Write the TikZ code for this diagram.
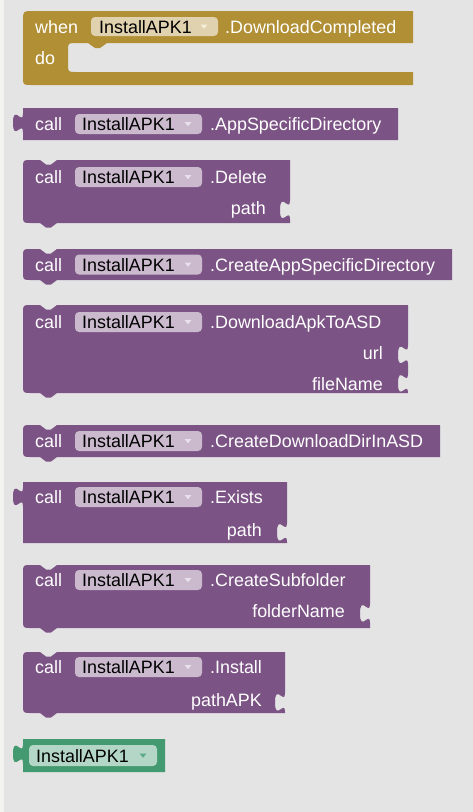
\documentclass[tikz,border=0pt]{standalone}
\usepackage{fontspec}
\setmainfont{Liberation Sans}
\definecolor{bgc}{HTML}{E4E4E4}
\definecolor{stripc}{HTML}{F3F3EF}
\definecolor{procP}{HTML}{7C5385}
\definecolor{fieldP}{HTML}{CBBACE}
\definecolor{arrowP}{HTML}{E9E1EB}
\definecolor{evG}{HTML}{B18F35}
\definecolor{fieldG}{HTML}{E0D2AE}
\definecolor{arrowG}{HTML}{F4EEDC}
\definecolor{compG}{HTML}{439970}
\definecolor{fieldN}{HTML}{B4D6C6}
\definecolor{arrowN}{HTML}{5BAA85}
% puzzle tab going down / up along a vertical edge at x=#1, starting at y=#2
\newcommand\tabdn[2]{-- (#1,#2) .. controls (#1,#2+12.5) and (#1-10,#2-10) .. (#1-10,#2+9.4) .. controls (#1-10,#2+28.8) and (#1,#2+6.3) .. (#1,#2+18.8)}
\newcommand\tabup[2]{-- (#1,#2+18.8) .. controls (#1,#2+6.3) and (#1-10,#2+28.8) .. (#1-10,#2+9.4) .. controls (#1-10,#2-10) and (#1,#2+12.5) .. (#1,#2)}
% statement block: #1 top, #2 bottom, #3 right, #4 sockets on right edge
\newcommand\stmtblk[4]{\fill[blkP] (23,#1+8) .. controls (23,#1) .. (31,#1) -- (40,#1) -- (46,#1+4.5) -- (51,#1+4.5) -- (57,#1) -- (#3,#1) #4 -- (#3,#2) -- (57,#2) -- (51,#2+4.5) -- (46,#2+4.5) -- (40,#2) -- (31,#2) .. controls (23,#2) .. (23,#2-8) -- cycle;}
% value block: #1 top, #2 bottom, #3 right, #4 sockets, #5 style
\newcommand\valblk[5]{\fill[#5] (23,#1) -- (#3,#1) #4 -- (#3,#2) -- (23,#2) \tabup{23}{#1+5.5} -- cycle;}
% dropdown arrow at centre #1,#2 with colour #3
\newcommand\ddarrow[3]{\fill[#3] (#1-3.3,#2-1.8) -- (#1+3.3,#2-1.8) -- (#1,#2+2.2) -- cycle;}
\tikzset{
  blkP/.style={fill=procP},
  blkG/.style={fill=evG},
  blkN/.style={fill=compG},
  fldP/.style={fill=fieldP, rounded corners=4pt},
  fldG/.style={fill=fieldG, rounded corners=4pt},
  fldN/.style={fill=fieldN, rounded corners=4pt},
  wt/.style={text=white, inner sep=0pt, anchor=base west},
  wtr/.style={text=white, inner sep=0pt, anchor=base east},
  bt/.style={text=black, inner sep=0pt, anchor=base west},
}
\begin{document}
\begin{tikzpicture}[x=1pt, y=-1pt, font=\fontsize{17.9}{20}\selectfont]
\useasboundingbox (0,0) rectangle (473,812);
\fill[bgc] (0,0) rectangle (473,812);
\fill[stripc] (0,0) rectangle (4,812);

% ---- B1 event block
\fill[blkG] (23,21) .. controls (23,11) .. (33,11) -- (413,11) -- (413,43) -- (107,43) -- (100,48) -- (95,48) -- (88,43) -- (76,43) .. controls (68,43) .. (68,51) -- (68,64) .. controls (68,72) .. (76,72) -- (413,72) -- (413,85) -- (31,85) .. controls (23,85) .. (23,77) -- cycle;
\fill[fldG] (91,17) rectangle (218,36);
\ddarrow{204}{26.5}{arrowG}
\node[wt] (whenT) at (35,33) {when};
\node[bt] (f1) at (99,33) {InstallAPK1};
\node[wt] (m1) at (225,33) {.DownloadCompleted};
\node[wt] (doT) at (35,64) {do};

% ---- B2 AppSpecificDirectory (value)
\valblk{108}{140}{398}{}{blkP}
\fill[fldP] (75,114) rectangle (202,134);
\ddarrow{188}{124}{arrowP}
\node[wt] (c2) at (35,130.5) {call};
\node[bt] (f2) at (82,130.5) {InstallAPK1};
\node[wt] (m2) at (210,130.5) {.AppSpecificDirectory};

% ---- B3 Delete
\stmtblk{160}{223}{290}{\tabdn{290}{200.5}}
\fill[fldP] (75,167) rectangle (202,187);
\ddarrow{188}{177}{arrowP}
\node[wt] (c3) at (35,183.5) {call};
\node[bt] (f3) at (82,183.5) {InstallAPK1};
\node[wt] (m3) at (210,183.5) {.Delete};
\node[wtr] (p3) at (266,214) {path};

% ---- B4 CreateAppSpecificDirectory
\stmtblk{249}{280}{452}{}
\fill[fldP] (75,254.5) rectangle (202,274.5);
\ddarrow{188}{264.5}{arrowP}
\node[wt] (c4) at (35,271) {call};
\node[bt] (f4) at (82,271) {InstallAPK1};
\node[wt] (m4) at (210,271) {.CreateAppSpecificDirectory};

% ---- B5 DownloadApkToASD
\stmtblk{305}{393}{408}{\tabdn{408}{345.5}\tabdn{408}{374}}
\fill[fldP] (75,312) rectangle (202,332);
\ddarrow{188}{322}{arrowP}
\node[wt] (c5) at (35,328.5) {call};
\node[bt] (f5) at (82,328.5) {InstallAPK1};
\node[wt] (m5) at (210,328.5) {.DownloadApkToASD};
\node[wtr] (p5a) at (383,359) {url};
\node[wtr] (p5b) at (383,390) {fileName};

% ---- B6 CreateDownloadDirInASD
\stmtblk{425}{457}{440}{}
\fill[fldP] (75,431) rectangle (202,451);
\ddarrow{188}{441}{arrowP}
\node[wt] (c6) at (35,447.5) {call};
\node[bt] (f6) at (82,447.5) {InstallAPK1};
\node[wt] (m6) at (210,447.5) {.CreateDownloadDirInASD};

% ---- B7 Exists (value)
\valblk{482}{543}{287}{\tabdn{287}{523}}{blkP}
\fill[fldP] (75,487) rectangle (202,507);
\ddarrow{188}{497}{arrowP}
\node[wt] (c7) at (35,503.5) {call};
\node[bt] (f7) at (82,503.5) {InstallAPK1};
\node[wt] (m7) at (210,503.5) {.Exists};
\node[wtr] (p7) at (262,536.5) {path};

% ---- B8 CreateSubfolder
\stmtblk{565}{628}{370}{\tabdn{370}{604}}
\fill[fldP] (75,570) rectangle (202,590);
\ddarrow{188}{580}{arrowP}
\node[wt] (c8) at (35,586.5) {call};
\node[bt] (f8) at (82,586.5) {InstallAPK1};
\node[wt] (m8) at (210,586.5) {.CreateSubfolder};
\node[wtr] (p8) at (345,617.5) {folderName};

% ---- B9 Install
\stmtblk{652}{713}{285}{\tabdn{285}{693}}
\fill[fldP] (75,657) rectangle (202,677);
\ddarrow{188}{667}{arrowP}
\node[wt] (c9) at (35,673.5) {call};
\node[bt] (f9) at (82,673.5) {InstallAPK1};
\node[wt] (m9) at (210,673.5) {.Install};
\node[wtr] (p9) at (262,706.5) {pathAPK};

% ---- B10 component block (green)
\valblk{739}{772}{165}{}{blkN}
\fill[fldN] (29,745) rectangle (157,766);
\ddarrow{143}{755.5}{arrowN}
\node[bt] (f10) at (36,762) {InstallAPK1};
\end{tikzpicture}
\end{document}
